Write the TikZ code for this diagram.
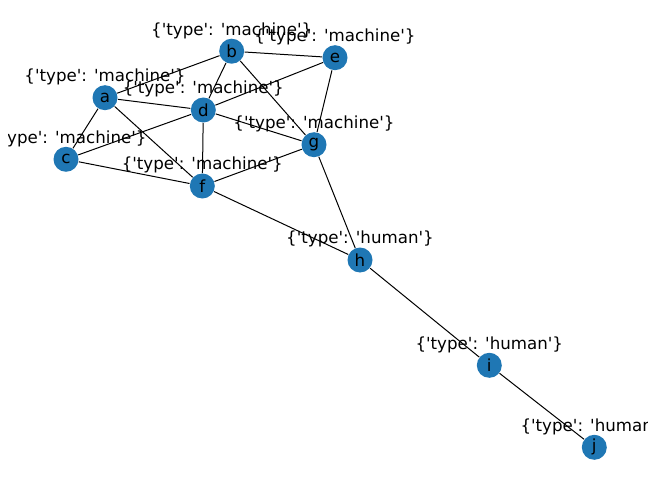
\documentclass[tikz,border=0pt]{standalone}
\usepackage{fontspec}
\setmainfont{DejaVu Sans}[Ligatures=TeXOff]
\tikzset{every picture/.style={line width=0.75pt}}
\definecolor{nodeblue}{RGB}{31,119,180}
\tikzset{
  vertex/.style={circle, fill=nodeblue, draw=none, minimum size=18.75pt, inner sep=0pt, font=\fontsize{12.5}{15}\selectfont},
  tag/.style={inner sep=0pt, anchor=center, font=\fontsize{12.5}{15}\selectfont},
  link/.style={draw=black, line width=0.75pt}
}

\begin{document}
\begin{tikzpicture}[x=0.75pt,y=0.75pt,yscale=-1,xscale=1]
%set diagram size to 660 x 499
\useasboundingbox (0,0) rectangle (660,499);

%Shape: Circle [vertices]
\node [vertex] (a) at (105,97.7) {a};
\node [vertex] (b) at (231.7,51.2) {b};
\node [vertex] (c) at (66,159.3) {c};
\node [vertex] (d) at (203.3,110) {d};
\node [vertex] (e) at (335,57.7) {e};
\node [vertex] (f) at (202.3,186) {f};
\node [vertex] (g) at (314,144.7) {g};
\node [vertex] (h) at (360,260) {h};
\node [vertex] (i) at (489.3,365.3) {i};
\node [vertex] (j) at (594.3,447.3) {j};

%Straight Lines [edges]
\draw [link] (a) -- (b);
\draw [link] (a) -- (c);
\draw [link] (a) -- (d);
\draw [link] (a) -- (f);
\draw [link] (b) -- (e);
\draw [link] (b) -- (d);
\draw [link] (b) -- (g);
\draw [link] (c) -- (d);
\draw [link] (c) -- (f);
\draw [link] (d) -- (e);
\draw [link] (d) -- (f);
\draw [link] (d) -- (g);
\draw [link] (e) -- (g);
\draw [link] (f) -- (g);
\draw [link] (f) -- (h);
\draw [link] (g) -- (h);
\draw [link] (h) -- (i);
\draw [link] (i) -- (j);

\begin{scope}
%clip labels to the plot area
\clip (8,0) rectangle (647,499);
% Text Node
\node [tag] (ta) at (105,77) {\{'type': 'machine'\}};
% Text Node
\node [tag] (tb) at (231.7,30.8) {\{'type': 'machine'\}};
% Text Node
\node [tag] (tc) at (66,138.6) {\{'type': 'machine'\}};
% Text Node
\node [tag] (td) at (203.3,89.3) {\{'type': 'machine'\}};
% Text Node
\node [tag] (te) at (335,37) {\{'type': 'machine'\}};
% Text Node
\node [tag] (tf) at (202.3,165.3) {\{'type': 'machine'\}};
% Text Node
\node [tag] (tg) at (314,124) {\{'type': 'machine'\}};
% Text Node
\node [tag] (th) at (360,239.3) {\{'type': 'human'\}};
% Text Node
\node [tag] (ti) at (489.3,344.6) {\{'type': 'human'\}};
% Text Node
\node [tag] (tj) at (594.3,426.6) {\{'type': 'human'\}};
\end{scope}

\end{tikzpicture}
\end{document}
